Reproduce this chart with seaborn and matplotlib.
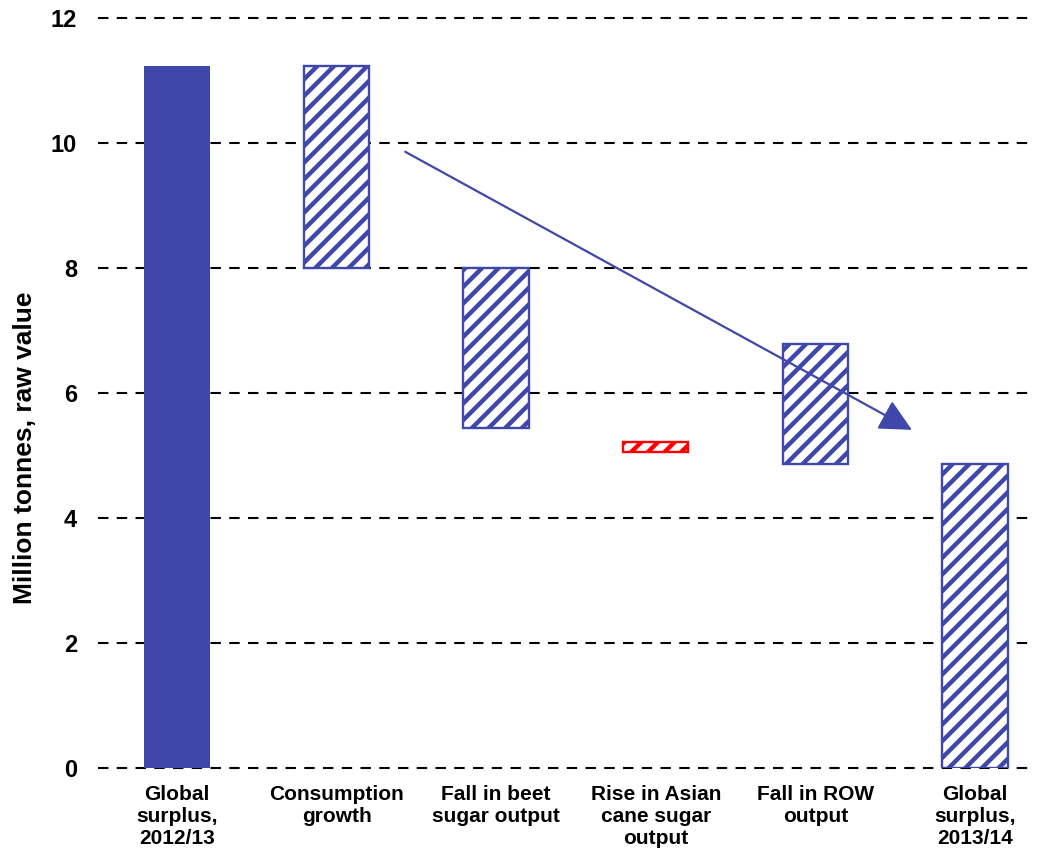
import matplotlib
matplotlib.use("Agg")
import matplotlib.pyplot as plt
import seaborn as sns
import pandas as pd

# Waterfall of the global sugar surplus, million tonnes raw value
categories = [
    "Global\nsurplus,\n2012/13",
    "Consumption\ngrowth",
    "Fall in beet\nsugar output",
    "Rise in Asian\ncane sugar\noutput",
    "Fall in ROW\noutput",
    "Global\nsurplus,\n2013/14",
]
bar_tops = [11.23, 11.23, 8.00, 5.22, 6.78, 4.86]
bar_bottoms = [0.0, 8.00, 5.44, 5.06, 4.86, 0.0]
yticks = [0, 2, 4, 6, 8, 10, 12]

# trend arrow (category position, value)
arrow_start = (1.43, 9.86)
arrow_end = (4.605, 5.41)

blue = "#3F48AA"
red = "#FF0000"

sns.set_theme(style="white")
plt.rcParams["font.family"] = ["Liberation Sans", "DejaVu Sans"]
plt.rcParams["font.weight"] = "bold"
plt.rcParams["text.color"] = "black"
plt.rcParams["axes.labelcolor"] = "black"
plt.rcParams["xtick.color"] = "black"
plt.rcParams["ytick.color"] = "black"
plt.rcParams["hatch.linewidth"] = 3.2

df = pd.DataFrame({
    "category": categories,
    "height": [t - b for t, b in zip(bar_tops, bar_bottoms)],
    "bottom": bar_bottoms,
})

fig = plt.figure(figsize=(10.47, 8.58), dpi=100)
ax = fig.add_axes([0.0936, 0.1049, 0.8949, 0.8741])

sns.barplot(data=df, x="category", y="height", bottom=df["bottom"].tolist(),
            width=0.41, color=blue, saturation=1, ax=ax, zorder=3)

for i, patch in enumerate(ax.patches):
    if i == 0:
        patch.set_facecolor(blue)
        patch.set_edgecolor(blue)
        patch.set_linewidth(0)
    else:
        ec = red if i == 3 else blue
        patch.set_facecolor("white")
        patch.set_edgecolor(ec)
        patch.set_hatch("//")
        patch.set_linewidth(1.7)

ax.set_ylim(0, 12)
ax.set_xlim(-0.495, 5.376)
ax.set_yticks(yticks)
ax.set_yticklabels([str(v) for v in yticks], fontsize=17, fontweight="bold")
ax.tick_params(axis="y", length=0, pad=15, colors="black")
ax.tick_params(axis="x", length=0, pad=12, labelsize=15, colors="black")
for lbl in ax.get_xticklabels():
    lbl.set_fontweight("bold")
    lbl.set_linespacing(1.22)

ax.yaxis.grid(True, color="black", linewidth=1.5, linestyle=(0, (5, 4)), zorder=0)
ax.set_axisbelow(True)
for gl in ax.get_ygridlines():
    gl.set_clip_on(False)
for s in ax.spines.values():
    s.set_visible(False)

ax.set_xlabel("")
ax.set_ylabel("Million tonnes, raw value", fontsize=19, fontweight="bold",
              color="black")
ax.yaxis.set_label_coords(-0.065, 0.427)

ax.annotate("", xy=arrow_end, xytext=arrow_start,
            arrowprops=dict(arrowstyle="-|>,head_length=1.1,head_width=0.55",
                            color=blue, lw=1.6, mutation_scale=18,
                            shrinkA=0, shrinkB=0),
            zorder=5)

fig.savefig("out.png", dpi=100, facecolor="white")
